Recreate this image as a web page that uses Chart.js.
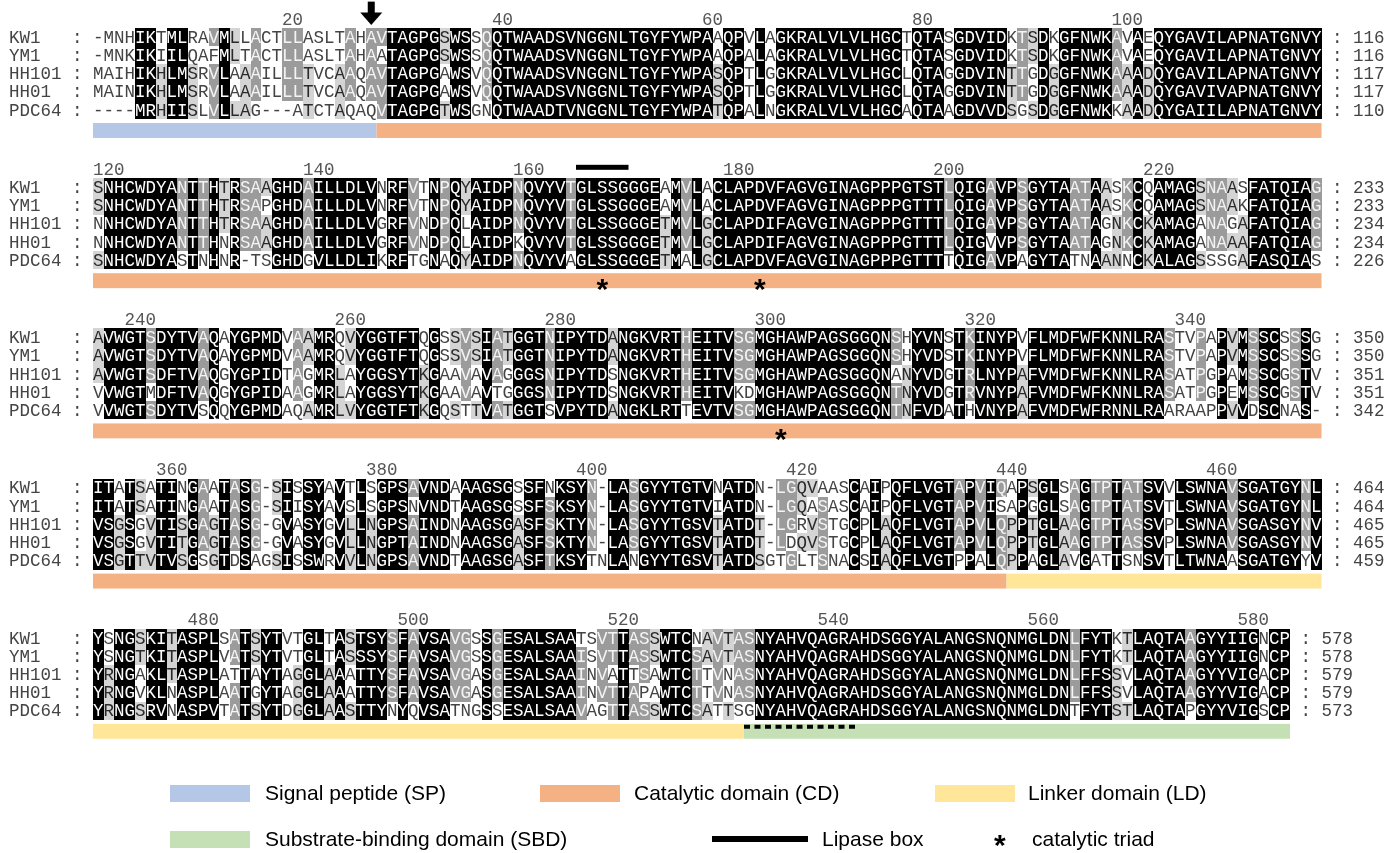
<!DOCTYPE html>
<html>
<head>
<meta charset="utf-8">
<title>Alignment</title>
<script src="https://cdn.jsdelivr.net/npm/chart.js@4.4.1/dist/chart.umd.min.js"></script>
<style>
  html, body { margin: 0; padding: 0; background: #fff; }
  #wrap { position: relative; width: 1399px; height: 853px; overflow: hidden; }
  #aln { position: absolute; left: 0; top: 0; }
  .sw { position: absolute; width: 80px; height: 17px; }
  .txt { position: absolute; font-family: "Liberation Sans", Arial, sans-serif; font-size: 21px; line-height: 24px; color: #000; white-space: nowrap; }
</style>
</head>
<body>
<div id="wrap">
  <canvas id="aln" width="1399" height="853"></canvas>
  <div class="sw" style="left:170px;top:785px;background:#b4c7e7"></div>
  <div class="txt" style="left:265px;top:781px">Signal peptide (SP)</div>
  <div class="sw" style="left:540px;top:785px;background:#f4b183"></div>
  <div class="txt" style="left:634px;top:781px">Catalytic domain (CD)</div>
  <div class="sw" style="left:935px;top:785px;background:#ffe699"></div>
  <div class="txt" style="left:1028px;top:781px">Linker domain (LD)</div>
  <div class="sw" style="left:170px;top:831px;background:#c5e0b4"></div>
  <div class="txt" style="left:265px;top:827px">Substrate-binding domain (SBD)</div>
  <div class="sw" style="left:712px;top:836px;width:96px;height:6px;background:#000"></div>
  <div class="txt" style="left:822px;top:827px">Lipase box</div>
  <div class="txt" style="left:994px;top:833px;font-weight:bold;font-size:30px">*</div>
  <div class="txt" style="left:1032px;top:827px">catalytic triad</div>
</div>
<script>
// sequence names, one row per name in every block
const names = ['KW1', 'YM1', 'HH101', 'HH01', 'PDC64'];

const block1 = [
  '-MNHIKTMLRAVMLLACTLLASLTAHAVTAGPGSWSSQQTWAADSVNGGNLTGYFYWPAAQPVLAGKRALVLVLHGCTQTASGDVIDKTSDKGFNWKAVAEQYGAVILAPNATGNVY',
  '-MNKIKIILQAFMLTACTLLASLTAHAATAGPGSWSSQQTWAADSVNGGNLTGYFYWPAAQPALAGKRALVLVLHGCTQTASGDVIDKTSDKGFNWKAVAEQYGAVILAPNATGNVY',
  'MAIHIKHLMSRVLAAAILLLTVCAAQAVTAGPGAWSVQQTWAADSVNGGNLTGYFYWPASQPTLGGKRALVLVLHGCLQTAGGDVINTTGDGGFNWKAAADQYGAVILAPNATGNVY',
  'MAINIKHLMSRVLAAAILLLTVCAAQAVTAGPGAWSVQQTWAADSVNGGNLTGYFYWPASQPTLGGKRALVLVLHGCLQTAGGDVINTTGDGGFNWKAAADQYGAVIVAPNATGNVY',
  '----MRHIISLVLLAG---ATCTAQAQVTAGPGTWSGNQTWAADTVNGGNLTGYFYWPATQPALNGKRALVLVLHGCAQTAAGDVVDSGSDGGFNWKKAADQYGAIILAPNATGNVY'
];
const block2 = [
  'SNHCWDYANTTHTRSAAGHDAILLDLVNRFVTNPQYAIDPNQVYVTGLSSGGGEAMVLACLAPDVFAGVGINAGPPPGTSTLQIGAVPSGYTAATAASKCQAMAGSNAASFATQIAG',
  'SNHCWDYANTTHTRSAPGHDAILLDLVNRFVTNPQYAIDPNQVYVTGLSSGGGEAMVLACLAPDVFAGVGINAGPPPGTTTLQIGAVPSGYTAATAASKCQAMAGSNAAKFATQIAG',
  'NNHCWDYANTTHTRSAAGHDAILLDLVGRFVNDPQLAIDPNQVYVTGLSSGGGETMVLGCLAPDIFAGVGINAGPPPGTTTLQIGAVPSGYTAATAGNKCKAMAGANAGAFATQIAG',
  'NNHCWDYANTTHNRSAAGHDAILLDLVGRFVNDPQLAIDPKQVYVTGLSSGGGETMVLGCLAPDIFAGVGINAGPPPGTTTLQIGVVPSGYTAATAGNKCKAMAGANAAAFATQIAG',
  'SNHCWDYASTNHNR-TSGHDGVLLDLIKRFTGNAQYAIDPNQVYVAGLSSGGGETMALGCLAPDVFAGVGINAGPPPGTTTTQIGAVPAGYTATNAANNCKALAGSSSGAFASQIAS'
];
const block3 = [
  'AVWGTSDYTVAQAYGPMDVAAMRQVYGGTFTQGSSVSIATGGTNIPYTDANGKVRTHEITVSGMGHAWPAGSGGQNSHYVNSTKINYPVFLMDFWFKNNLRASTVPAPVMSSCSSSG',
  'AVWGTSDYTVAQAYGPMDVAAMRQVYGGTFTQGSSVSIATGGTNIPYTDANGKVRTHEITVSGMGHAWPAGSGGQNSHYVDSTKINYPVFLMDFWFKNNLRASTVPAPVMSSCSSSG',
  'AVWGTSDFTVAQGYGPIDTAGMRLAYGGSYTKGAAVAVAGGGSNIPYTDSNGKVRTHEITVSGMGHAWPAGSGGQNANYVDGTRLNYPAFVMDFWFKNNLRASATPGPAMSSCGSTV',
  'VVWGTMDFTVAQGYGPIDAAGMRLAYGGSYTKGAAVAVTGGGSNIPYTDSNGKVRTHEITVKDMGHAWPAGSGGQNTNYVDGTRVNYPAFVMDFWFKNNLRASATPGPEMSSCGSTV',
  'VVWGTSDYTVSQQYGPMDAQAMRLVYGGTFTKGQSTTVATGGTSVPYTDANGKLRTTEVTVSGMGHAWPAGSGGQNTNFVDATHVNYPAFVMDFWFRNNLRAARAAPPVVDSCNAS-'
];
const block4 = [
  'ITATSATINGAATASG-SISSYAVTLSGPSAVNDAAAGSGSSFNKSYN-LASGYYTGTVNATDN-LGQVAASCAIPQFLVGTAPVIQAPSGLSAGTPTATSVVLSWNAVSGATGYNL',
  'ITATSATINGAATASG-SIISYAVSLSGPSNVNDTAAGSGSSFSKSYN-LASGYYTGTVIATDN-LGQASASCAIPQFLVGTAPVISAPGGLSAGTPTATSVTLSWNAVSGATGYNL',
  'VSGSGVTISGAGTASG-GVASYGVLLNGPSAINDNAAGSGASFSKTYN-LASGYYTGSVTATDT-LGRVSTGCPLAQFLVGTAPVLQPPTGLAAGTPTASSVPLSWNAVSGASGYNV',
  'VSGSGVTITGAGTASG-GVASYGVLLNGPTAINDNAAGSGASFSKTYN-LASGYYTGSVTATDT-LDQVSTGCPLAQFLVGTAPVLQPPTGLAAGTPTASSVPLSWNAVSGASGYNV',
  'VSGTTVTVSGSGTDSAGSISSWRVVLNGPSAVNDTAAGSGASFTKSYTNLANGYYTGSVTATDSGTGLTSNACSIAQFLVGTPPALQPPAGLAVGATTSNSVTLTWNAASGATGYYV'
];
const block5 = [
  'YSNGSKITASPLSATSYTVTGLTASTSYSFAVSAVGSSGESALSAATSVTTASSWTCNAVTASNYAHVQAGRAHDSGGYALANGSNQNMGLDNLFYTKTLAQTAAGYYIIGNCP',
  'YSNGTKITASPLVATSYTVTGLTASSSYSFAVSAVGSSGESALSAAISVTTASSWTCSAVTASNYAHVQAGRAHDSGGYALANGSNQNMGLDNLFYTKTLAQTAAGYYIIGNCP',
  'YRNGAKLTASPLATTAYTAGGLAAATTYSFAVSAVGASGESALSAAINVATTSAWTCTTVNASNYAHVQAGRAHDSGGYALANGSNQNMGLDNLFFSSVLAQTAAGYYVIGACP',
  'YRNGVKLNASPLAATGYTAGGLAAATTYSFAVSAVGASGESALSAAINVTTAPAWTCTTVNASNYAHVQAGRAHDSGGYALANGSNQNMGLDNLFFSSVLAQTAAGYYVIGACP',
  'YRNGSRVNASPVTATSYTDGGLAASTTYNYQVSATNGSSESALSAAVAGTTASSWTCSATTSGNYAHVQAGRAHDSGGYALANGSNQNMGLDNTFYTSTLAQTAPGYYVIGSCP'
];
const blocks = [block1, block2, block3, block4, block5];

// ruler labels (alignment columns)
const rulerTicks = [20, 40, 60, 80, 100, 120, 140, 160, 180, 200, 220, 240, 260, 280, 300, 320, 340,
  360, 380, 400, 420, 440, 460, 480, 500, 520, 540, 560, 580];

// annotations, in alignment columns
const domains = [
  { key: 'SP', from: 1, to: 27 },
  { key: 'CD', from: 28, to: 438 },
  { key: 'LD', from: 439, to: 530 },
  { key: 'SBD', from: 531, to: 582 }
];
const cleavageSite = 27;
const lipaseBox = [164, 168];
const catalyticTriad = [166, 181, 300];
const sbdMotif = [531, 541];

// similarity groups used for the shading
const simGroups = ['DN', 'EQ', 'ST', 'KR', 'FYW', 'LIVM'];

const domainColors = { SP: '#b4c7e7', CD: '#f4b183', LD: '#ffe699', SBD: '#c5e0b4' };
const shadeFill = ['', '#d4d4d4', '#9b9b9b', '#000000'];
const shadeText = ['#444444', '#2a2a2a', '#f4f4f4', '#ffffff'];

// layout (in row units of the y scale)
const BLOCK_STEP = 8.253;
const BAR_OFFSET = 5.13;
const BAR_HALF = 0.41;
const RULER_OFFSET = -1.0;
const MONO = '"Liberation Mono", "DejaVu Sans Mono", monospace';

// first alignment column of each block
const blockStart = [];
blocks.reduce((acc, b, i) => { blockStart[i] = acc; return acc + b[0].length; }, 1);

function shadeColumn(col) {
  const cands = [];
  new Set(col).forEach(c => { if (c !== '-') cands.push(c); });
  simGroups.forEach(g => cands.push(g));
  let best = null, bestN = 0;
  cands.forEach(set => {
    const n = col.filter(c => c !== '-' && set.includes(c)).length;
    if (n > bestN || (n === bestN && best && set.length < best.length)) { best = set; bestN = n; }
  });
  const level = bestN >= 5 ? 3 : bestN === 4 ? 2 : bestN === 3 ? 1 : 0;
  return col.map(c => (level && c !== '-' && best.includes(c)) ? level : 0);
}

const points = [];
blocks.forEach((rows, b) => {
  const width = rows[0].length;
  for (let c = 0; c < width; c++) {
    const col = rows.map(r => r[c] || '-');
    const lv = shadeColumn(col);
    rows.forEach((r, s) => points.push({ x: c + 0.5, y: b * BLOCK_STEP + s, ch: col[s], lv: lv[s] }));
  }
});

// running residue counts at the end of each block
const counts = blocks.map(() => []);
names.forEach((n, s) => {
  let total = 0;
  blocks.forEach((rows, b) => { total += rows[s].replace(/-/g, '').length; counts[b][s] = total; });
});

function locate(a) {
  for (let b = blocks.length - 1; b >= 0; b--) {
    if (a >= blockStart[b]) return { b, c: a - blockStart[b] };
  }
  return { b: 0, c: a - 1 };
}

function splitRange(from, to) {
  const segs = [];
  blocks.forEach((rows, b) => {
    const s = blockStart[b], w = rows[0].length;
    const lo = Math.max(from, s), hi = Math.min(to, s + w - 1);
    if (lo <= hi) segs.push({ b, c0: lo - s, c1: hi - s + 1 });
  });
  return segs;
}

const alignmentPlugin = {
  id: 'alignment',
  beforeDatasetsDraw(chart) {
    const { ctx, scales: { x, y } } = chart;
    domains.forEach(d => {
      splitRange(d.from, d.to).forEach(seg => {
        const base = seg.b * BLOCK_STEP + BAR_OFFSET;
        const top = y.getPixelForValue(base - BAR_HALF);
        const bot = y.getPixelForValue(base + BAR_HALF);
        const l = x.getPixelForValue(seg.c0), r = x.getPixelForValue(seg.c1);
        ctx.fillStyle = domainColors[d.key];
        ctx.fillRect(l, top, r - l, bot - top);
      });
    });
  },
  afterDatasetsDraw(chart) {
    const { ctx, chartArea, scales: { x, y } } = chart;
    const meta = chart.getDatasetMeta(0);
    const data = chart.data.datasets[0].data;
    ctx.save();
    // shaded cells
    data.forEach(p => {
      if (!p.lv) return;
      const l = Math.round(x.getPixelForValue(p.x - 0.5)), r = Math.round(x.getPixelForValue(p.x + 0.5));
      const t = Math.round(y.getPixelForValue(p.y - 0.5)), btm = Math.round(y.getPixelForValue(p.y + 0.5));
      ctx.fillStyle = shadeFill[p.lv];
      ctx.fillRect(l, t, r - l, btm - t);
    });
    // residues
    ctx.font = '17.5px ' + MONO;
    ctx.textAlign = 'center';
    ctx.textBaseline = 'middle';
    meta.data.forEach((el, i) => {
      const p = data[i];
      ctx.fillStyle = shadeText[p.lv];
      ctx.fillText(p.ch, el.x, el.y + 1);
    });
    // names and running counts
    ctx.textAlign = 'left';
    blocks.forEach((rows, b) => {
      const endPx = x.getPixelForValue(rows[0].length);
      names.forEach((n, s) => {
        const py = y.getPixelForValue(b * BLOCK_STEP + s) + 1;
        ctx.fillStyle = '#444';
        ctx.fillText(n.padEnd(6, ' ') + ':', chartArea.left - 84, py);
        ctx.fillText(' : ' + counts[b][s], endPx, py);
      });
    });
    // ruler
    ctx.textAlign = 'right';
    ctx.fillStyle = '#555';
    rulerTicks.forEach(t => {
      const { b, c } = locate(t);
      ctx.fillText(String(t), x.getPixelForValue(c + 1), y.getPixelForValue(b * BLOCK_STEP + RULER_OFFSET) + 1);
    });
    // cleavage arrow
    {
      const { b, c } = locate(cleavageSite);
      const cx = x.getPixelForValue(c + 0.5);
      const top = y.getPixelForValue(b * BLOCK_STEP - 1.95);
      const mid = y.getPixelForValue(b * BLOCK_STEP - 1.35);
      const tip = y.getPixelForValue(b * BLOCK_STEP - 0.66);
      ctx.fillStyle = '#000';
      ctx.fillRect(cx - 3.5, top, 7, mid - top + 1);
      ctx.beginPath();
      ctx.moveTo(cx - 11, mid);
      ctx.lineTo(cx + 11, mid);
      ctx.lineTo(cx, tip);
      ctx.closePath();
      ctx.fill();
    }
    // lipase box
    {
      const a = locate(lipaseBox[0]), z = locate(lipaseBox[1]);
      const py = y.getPixelForValue(a.b * BLOCK_STEP + RULER_OFFSET - 0.1);
      ctx.fillStyle = '#000';
      ctx.fillRect(x.getPixelForValue(a.c), py - 2.5, x.getPixelForValue(z.c + 1) - x.getPixelForValue(a.c), 5);
    }
    // SBD motif dotted line
    {
      const a = locate(sbdMotif[0]), z = locate(sbdMotif[1]);
      const py = y.getPixelForValue(a.b * BLOCK_STEP + BAR_OFFSET - BAR_HALF) + 3;
      ctx.strokeStyle = '#000';
      ctx.lineWidth = 4;
      ctx.setLineDash([6, 4.5]);
      ctx.beginPath();
      ctx.moveTo(x.getPixelForValue(a.c), py);
      ctx.lineTo(x.getPixelForValue(z.c + 1), py);
      ctx.stroke();
      ctx.setLineDash([]);
    }
    // catalytic triad
    ctx.font = 'bold 30px "Liberation Sans", Arial, sans-serif';
    ctx.textAlign = 'center';
    ctx.textBaseline = 'alphabetic';
    ctx.fillStyle = '#000';
    catalyticTriad.forEach(a => {
      const { b, c } = locate(a);
      ctx.fillText('*', x.getPixelForValue(c + 0.5), y.getPixelForValue(b * BLOCK_STEP + BAR_OFFSET) + 18);
    });
    ctx.restore();
  }
};

new Chart(document.getElementById('aln'), {
  type: 'scatter',
  data: { datasets: [{ data: points, pointRadius: 0, pointHoverRadius: 0, pointHitRadius: 0 }] },
  options: {
    responsive: false,
    animation: false,
    devicePixelRatio: 1,
    events: [],
    layout: { padding: { left: 93, right: 77.5, top: 0, bottom: 0 } },
    scales: {
      x: { type: 'linear', min: 0, max: 117, display: false },
      y: { type: 'linear', min: -2.04, max: 44.83, reverse: true, display: false }
    },
    plugins: { legend: { display: false }, tooltip: { enabled: false } }
  },
  plugins: [alignmentPlugin]
});
</script>
</body>
</html>
